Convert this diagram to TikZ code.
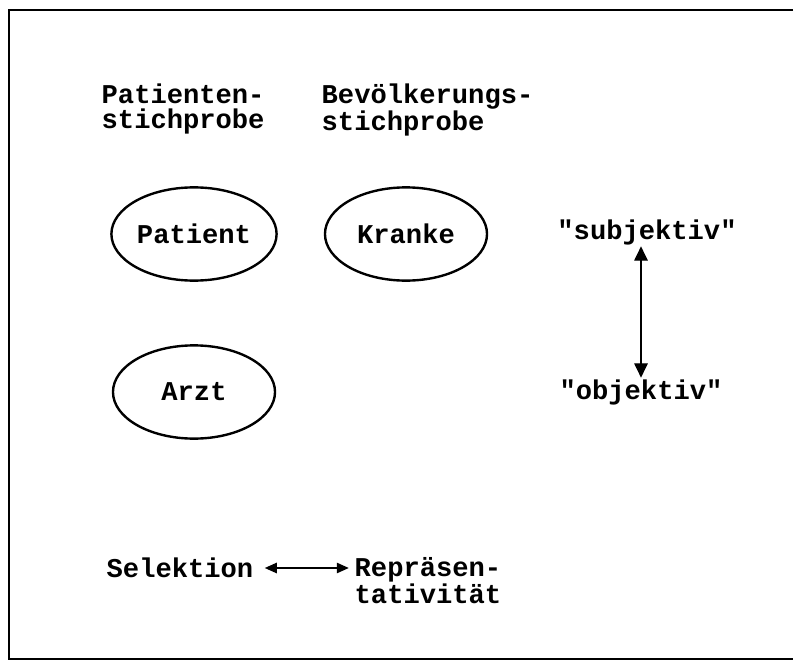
\documentclass[tikz,border=0pt]{standalone}
\usepackage{fontspec}
\setmonofont{Liberation Mono}
\usetikzlibrary{shapes.geometric,arrows.meta}

\tikzset{
  schrift/.style={font=\ttfamily\bfseries\fontsize{19.3}{17.8}\selectfont, inner sep=1pt},
  oval/.style={schrift, draw, ellipse, line width=1.7pt, minimum width=4.05cm, minimum height=2.33cm},
  pfeil/.style={<->, line width=1pt, >={Triangle[length=0.36cm,width=0.34cm]}},
  rahmen/.style={line width=1.8pt}
}

\begin{document}
\begin{tikzpicture}[x=0.025cm,y=-0.025cm]
\useasboundingbox (0,0) rectangle (795,663);
\draw[rahmen] (793,10) -- (9,10) -- (9,659) -- (793,659);
% Stichproben
\node[schrift, anchor=north west, align=left] (patstich) at (100,82) {Patienten-\\stichprobe};
\node[schrift, anchor=north west, align=left] (bevstich) at (320,82) {Bevölkerungs-\\stichprobe};
% Ellipsen
\node[oval] (patient) at (194,234) {Patient};
\node[oval] (kranke) at (406,234) {Kranke};
\node[oval] (arzt) at (194,392) {Arzt};
% subjektiv - objektiv
\node[schrift] (subj) at (647,232) {"subjektiv"};
\node[schrift] (obj) at (641,392) {"objektiv"};
\draw[pfeil] (obj.north |- subj.south) -- (obj.north);
% Selektion - Repraesentativitaet
\node[schrift, anchor=west] (sel) at (105,568) {Selektion};
\node[schrift, anchor=north west, align=left] (rep) at (353,556) {Repräsen-\\tativität};
\draw[pfeil, shorten <=7pt, shorten >=3pt, >={Triangle[length=0.3cm,width=0.26cm]}] (sel.east) -- (sel.east -| rep.west);
\end{tikzpicture}
\end{document}
